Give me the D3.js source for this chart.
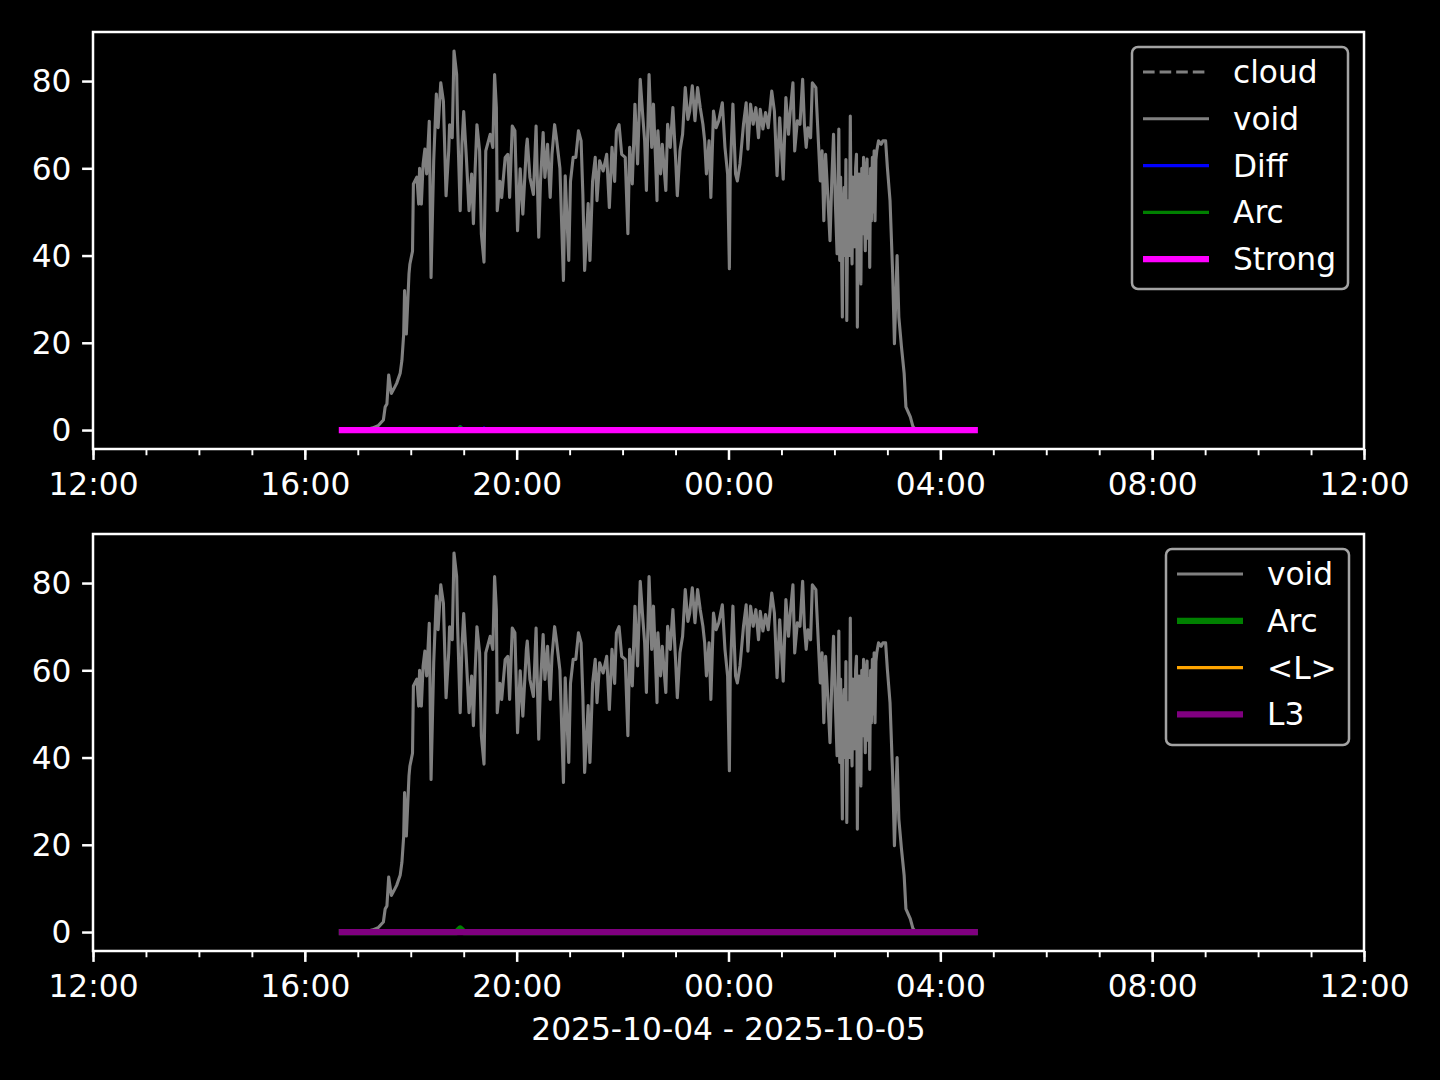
<!DOCTYPE html>
<html>
<head>
<meta charset="utf-8">
<script src="https://cdn.jsdelivr.net/npm/d3@7"></script>
<style>
  body { margin: 0; background: #000; }
  svg { display: block; }
  text { font-family: "DejaVu Sans", sans-serif; fill: #fff; }
</style>
</head>
<body>
<div id="chart"></div>
<script>
// minutes after 2025-10-04 12:00
var voidMinutes = [282,308,317,323,329,331,333,335,338,341,344,348,350,352,353,355,358,359,362,363,
  367,369,370,372,374,376,378,381,383,386,389,391,394,397,400,403,404,407,409,412,
  413,416,418,420,423,426,429,431,433,435,438,440,443,445,450,453,455,457,458,461,
  463,467,470,472,475,478,481,484,487,491,492,495,499,502,505,507,510,512,515,518,
  520,523,525,529,533,535,539,541,544,547,550,553,555,557,561,563,566,569,571,574,
  578,582,585,588,591,593,596,599,603,606,608,611,614,617,620,623,625,627,630,633,
  635,639,640,643,645,649,651,654,657,660,662,665,668,671,674,676,679,682,685,688,
  691,693,695,698,700,703,706,709,713,716,719,721,722,725,728,730,733,737,740,742,
  745,748,751,754,756,759,762,765,769,772,775,778,782,785,788,790,793,795,798,801,
  804,806,808,810,813,815,819,820,824,826,828,830,832,835,837,839,841,843,845,846,
  847,848,849,850,851,852,853,854,855,856,857,858,859,860,861,862,863,864,865,866,
  867,868,869,870,871,872,873,874,875,876,877,878,879,880,881,882,883,884,885,886,
  887,888,890,893,895,898,900,903,906,908,911,913,916,919,921,926,929,932,999];
var voidValues = [0,0,0.5,1,2.3,5.3,6,12.6,8.4,9.5,10.7,13,16,22,32,22,35.8,38,41,56.4,
  58,51.8,60,51.8,61,64.4,58.7,70.8,35,61.7,77,69.3,79.6,75.4,53.7,64,70,67,86.9,81.5,
  70.8,50.3,65.5,73,62.5,50.3,58.7,47.3,60,70,64,45,38.5,64,67.8,64.8,81.5,73.9,50.3,57,
  53.3,62.5,63.2,53.3,69.7,68.6,45.7,59.9,49.5,64.8,66.7,57.9,54,69.7,44.2,57,68.2,57.9,65.5,53.3,
  63.2,70,67,60,34.3,58.3,38.9,57,62.5,62.5,68.6,66.3,54,36.6,51.9,38.9,57,62.5,52.6,61.7,
  59.4,63.2,51,64.8,57,68.6,70,63.2,62.5,45,64.8,56.4,74.7,61,80.4,71.6,66.3,54.9,81.5,64.8,
  74.7,52.6,68.6,58.7,65.5,54.9,70.1,64.8,73.9,62.5,53.7,64,67.8,78.5,71.2,73.1,78.9,70.9,78.5,73.9,
  70.1,66.3,58.7,66.3,53.3,73.1,69.3,70.9,75,64.8,58.7,37,59.4,74.7,58.7,57.1,61,70.1,75,64.4,
  74.7,70.1,73.9,67,73.5,69,72.8,69.3,77.7,73.1,58.3,71.6,57.5,76.2,67.8,73.1,79.6,64,70.9,70.1,
  80.4,70.1,64.8,69.3,67,79.6,78.5,73.9,57.1,64,48,63.2,55.6,43.4,57.1,67.8,52.6,40.4,69,38.9,
  58,42,25.9,50,55.6,40,62,25.1,48,52.6,40,72,45,38.1,58,51,42,60,63.2,23.6,
  55,58.7,40,33.5,60,45,62.5,50,41.1,60,62.1,44,58,37.3,60,48,62.5,50,64,48,
  62,64,66.3,65.5,66.3,66.3,60.2,52.6,35.8,19.8,40,25.9,19,13,5.3,3,0.8,0,0];

var flatMinutes = [282, 999];
var flatValues = [0, 0];
var diffMinutes = [282, 412, 416, 420, 440, 443, 446, 999];
var diffValues = [0, 0, 0.8, 0, 0, 0.5, 0, 0];
var arcMinutes = [282, 412, 416, 420, 999];
var arcValues = [0, 0, 0.8, 0, 0];

var yTicks = [0, 20, 40, 60, 80];
var xLabel = "2025-10-04 - 2025-10-05";

var base = Date.UTC(2025, 9, 4, 12, 0);
function toPoints(mins, vals) {
  return mins.map(function(m, i) { return {t: new Date(base + m * 60000), v: vals[i]}; });
}

var topSeries = [
  {name: "cloud", pts: toPoints(flatMinutes, flatValues), color: "#808080", w: 3.1, dash: "11.6,5"},
  {name: "void", pts: toPoints(voidMinutes, voidValues), color: "#808080", w: 3.1},
  {name: "Diff", pts: toPoints(diffMinutes, diffValues), color: "#0000ff", w: 3.1},
  {name: "Arc", pts: toPoints(arcMinutes, arcValues), color: "#008000", w: 3.1},
  {name: "Strong", pts: toPoints(flatMinutes, flatValues), color: "#ff00ff", w: 6.25}
];
var bottomSeries = [
  {name: "void", pts: toPoints(voidMinutes, voidValues), color: "#808080", w: 3.1},
  {name: "Arc", pts: toPoints(arcMinutes, arcValues), color: "#008000", w: 6.25},
  {name: "<L>", pts: toPoints(flatMinutes, flatValues), color: "#ffa500", w: 3.1},
  {name: "L3", pts: toPoints(flatMinutes, flatValues), color: "#800080", w: 6.25}
];

var W = 1440, H = 1080;
var left = 93, width = 1271, height = 417;
var fs = 31.25;

var svg = d3.select("#chart")
  .append("svg")
    .attr("width", W)
    .attr("height", H);

svg.append("rect").attr("width", W).attr("height", H).attr("fill", "#000");

var x = d3.scaleUtc()
  .domain([new Date(base), new Date(base + 24 * 3600000)])
  .range([0, width]);

var vmax = d3.max(voidValues);
var y = d3.scaleLinear()
  .domain([-0.05 * vmax, 1.05 * vmax])
  .range([height, 0]);

function drawPanel(top, series, legendBox) {
  var g = svg.append("g").attr("transform", "translate(" + left + "," + top + ")");

  // minor ticks
  g.append("g")
    .attr("transform", "translate(0," + height + ")")
    .call(d3.axisBottom(x).ticks(d3.utcHour.every(1)).tickSize(6.25).tickFormat(""))
    .call(function(a) {
      a.select(".domain").remove();
      a.selectAll("line").attr("stroke", "#fff").attr("stroke-width", 1.9);
    });

  var xa = g.append("g")
    .attr("transform", "translate(0," + height + ")")
    .call(d3.axisBottom(x).ticks(d3.utcHour.every(4)).tickSize(10.9).tickPadding(13)
      .tickFormat(d3.utcFormat("%H:%M")));
  xa.select(".domain").remove();
  xa.selectAll("line").attr("stroke", "#fff").attr("stroke-width", 2.5);
  xa.selectAll("text").attr("font-size", fs).attr("font-family", "DejaVu Sans").attr("fill", "#fff");

  var ya = g.append("g")
    .call(d3.axisLeft(y).tickValues(yTicks).tickSize(10.9).tickPadding(10.6));
  ya.select(".domain").remove();
  ya.selectAll("line").attr("stroke", "#fff").attr("stroke-width", 2.5);
  ya.selectAll("text").attr("font-size", fs).attr("font-family", "DejaVu Sans")
    .attr("fill", "#fff").attr("dy", "0.35em");

  var line = d3.line()
    .x(function(d) { return x(d.t); })
    .y(function(d) { return y(d.v); });

  series.forEach(function(s) {
    g.append("path")
      .datum(s.pts)
      .attr("d", line)
      .attr("fill", "none")
      .attr("stroke", s.color)
      .attr("stroke-width", s.w)
      .attr("stroke-linejoin", "round")
      .attr("stroke-linecap", s.dash ? "butt" : "square")
      .attr("stroke-dasharray", s.dash || null);
  });

  g.append("rect")
    .attr("width", width)
    .attr("height", height)
    .attr("fill", "none")
    .attr("stroke", "#fff")
    .attr("stroke-width", 2.5);

  // legend
  var lg = svg.append("g");
  lg.append("rect")
    .attr("x", legendBox.x).attr("y", legendBox.y)
    .attr("width", legendBox.w).attr("height", legendBox.h)
    .attr("rx", 6).attr("ry", 6)
    .attr("fill", "#000").attr("fill-opacity", 0.8)
    .attr("stroke", "#cccccc").attr("stroke-opacity", 0.8)
    .attr("stroke-width", 2.5);

  series.forEach(function(s, i) {
    var cy = legendBox.y + 25 + i * 46.8;
    var lx = legendBox.x + 11 + (s.dash ? 0 : s.w / 2);
    lg.append("line")
      .attr("x1", lx).attr("x2", legendBox.x + 77 - (s.dash ? 0 : s.w / 2))
      .attr("y1", cy).attr("y2", cy)
      .attr("stroke", s.color)
      .attr("stroke-width", s.w)
      .attr("stroke-linecap", s.dash ? "butt" : "square")
      .attr("stroke-dasharray", s.dash || null);
    lg.append("text")
      .attr("x", legendBox.x + 101)
      .attr("y", cy)
      .attr("dy", "0.35em")
      .attr("font-size", fs)
      .text(s.name);
  });
}

drawPanel(32, topSeries, {x: 1132, y: 47, w: 216, h: 242});
drawPanel(534, bottomSeries, {x: 1166, y: 549, w: 183, h: 196});

svg.append("text")
  .attr("x", left + width / 2)
  .attr("y", 1040)
  .attr("text-anchor", "middle")
  .attr("font-size", fs)
  .text(xLabel);
</script>
</body>
</html>
